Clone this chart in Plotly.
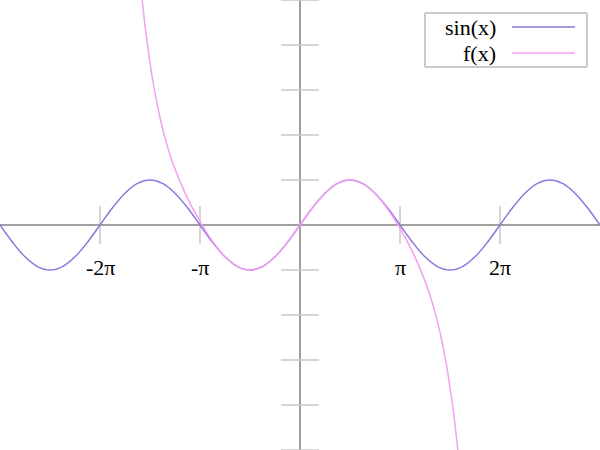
import plotly.graph_objects as go

# ----- data -----
SIN_X = [
    -9.425, -9.032, -8.639, -8.247, -7.854, -7.461, -7.069, -6.676, -6.283,
    -5.890, -5.498, -5.105, -4.712, -4.320, -3.927, -3.534, -3.142, -2.749,
    -2.356, -1.963, -1.571, -1.178, -0.785, -0.393, 0.0, 0.393, 0.785, 1.178,
    1.571, 1.963, 2.356, 2.749, 3.142, 3.534, 3.927, 4.320, 4.712, 5.105,
    5.498, 5.890, 6.283, 6.676, 7.069, 7.461, 7.854, 8.247, 8.639, 9.032, 9.425,
]
SIN_Y = [
    0.0, -0.383, -0.707, -0.924, -1.0, -0.924, -0.707, -0.383, 0.0,
    0.383, 0.707, 0.924, 1.0, 0.924, 0.707, 0.383, 0.0, -0.383,
    -0.707, -0.924, -1.0, -0.924, -0.707, -0.383, 0.0, 0.383, 0.707, 0.924,
    1.0, 0.924, 0.707, 0.383, 0.0, -0.383, -0.707, -0.924, -1.0, -0.924,
    -0.707, -0.383, 0.0, 0.383, 0.707, 0.924, 1.0, 0.924, 0.707, 0.383, 0.0,
]

F_X = [
    -5.0, -4.9, -4.8, -4.6, -4.4, -4.2, -4.0, -3.6, -3.2, -2.8, -2.4, -2.0,
    -1.6, -1.2, -0.8, -0.4, 0.0, 0.4, 0.8, 1.2, 1.6, 2.0, 2.4, 2.8, 3.2,
    3.6, 4.0, 4.2, 4.4, 4.6, 4.8, 4.9, 5.0,
]
F_Y = [
    5.293, 4.625, 4.047, 3.106, 2.389, 1.831, 1.384, 0.692, 0.147, -0.308,
    -0.669, -0.908, -0.999, -0.932, -0.717, -0.389, 0.0, 0.389, 0.717, 0.932,
    0.999, 0.908, 0.669, 0.308, -0.147, -0.692, -1.384, -1.831, -2.389,
    -3.106, -4.047, -4.625, -5.293,
]

X_TICKS = [-6.283, -3.142, 3.142, 6.283]
X_TICK_TEXT = ["-2π", "-π", "π", "2π"]
Y_TICKS = [-5, -4, -3, -2, -1, 1, 2, 3, 4, 5]

SIN_COLOR = "#8878dc"
F_COLOR = "#f49ef4"
TICK_COLOR = "#c8c8c8"
AXIS_COLOR = "#a0a0a0"
SERIF = "Liberation Serif, Times New Roman, serif"

fig = go.Figure()

# crossing tick marks drawn as line markers on the axes
fig.add_trace(go.Scatter(
    x=X_TICKS, y=[0] * len(X_TICKS), mode="markers", hoverinfo="skip",
    marker=dict(symbol="line-ns", size=27, line=dict(width=1.5, color=TICK_COLOR)),
))
fig.add_trace(go.Scatter(
    x=[0] * len(Y_TICKS), y=Y_TICKS, mode="markers", hoverinfo="skip",
    marker=dict(symbol="line-ew", size=27, line=dict(width=1.5, color=TICK_COLOR)),
))

fig.add_trace(go.Scatter(
    x=SIN_X, y=SIN_Y, mode="lines", name="sin(x)",
    line=dict(color=SIN_COLOR, width=1.5, shape="spline"),
))
fig.add_trace(go.Scatter(
    x=F_X, y=F_Y, mode="lines", name="f(x)",
    line=dict(color=F_COLOR, width=1.5, shape="spline"),
))

for xv, txt in zip(X_TICKS, X_TICK_TEXT):
    fig.add_annotation(x=xv, y=-0.95, text=txt, showarrow=False,
                       yanchor="middle",
                       font=dict(family=SERIF, size=22, color="black"))

# legend box in the top-right, text on the left and line sample on the right
fig.add_shape(type="rect", xref="paper", yref="paper",
              x0=0.7083, x1=0.9783, y0=0.8511, y1=0.9711,
              line=dict(color="#999999", width=1), fillcolor="white")
for name, color, yy in [("sin(x)", SIN_COLOR, 0.94), ("f(x)", F_COLOR, 0.8822)]:
    fig.add_annotation(x=0.83, y=yy, xref="paper", yref="paper", text=name,
                       showarrow=False, xanchor="right", yanchor="middle",
                       font=dict(family=SERIF, size=22, color="black"))
    fig.add_shape(type="line", xref="paper", yref="paper",
                  x0=0.8533, x1=0.9583, y0=yy, y1=yy,
                  line=dict(color=color, width=1.5))

fig.update_xaxes(range=[-9.425, 9.425], showgrid=False, showticklabels=False,
                 zeroline=True, zerolinecolor=AXIS_COLOR, zerolinewidth=2,
                 showline=False, fixedrange=True)
fig.update_yaxes(range=[-5, 5], showgrid=False, showticklabels=False,
                 zeroline=True, zerolinecolor=AXIS_COLOR, zerolinewidth=2,
                 showline=False, fixedrange=True)
fig.update_layout(
    width=600, height=450, margin=dict(l=0, r=0, t=0, b=0),
    paper_bgcolor="white", plot_bgcolor="white", showlegend=False,
)

fig.write_html("out.html", config={"displayModeBar": False},
               post_script="document.body.style.margin='0';")
